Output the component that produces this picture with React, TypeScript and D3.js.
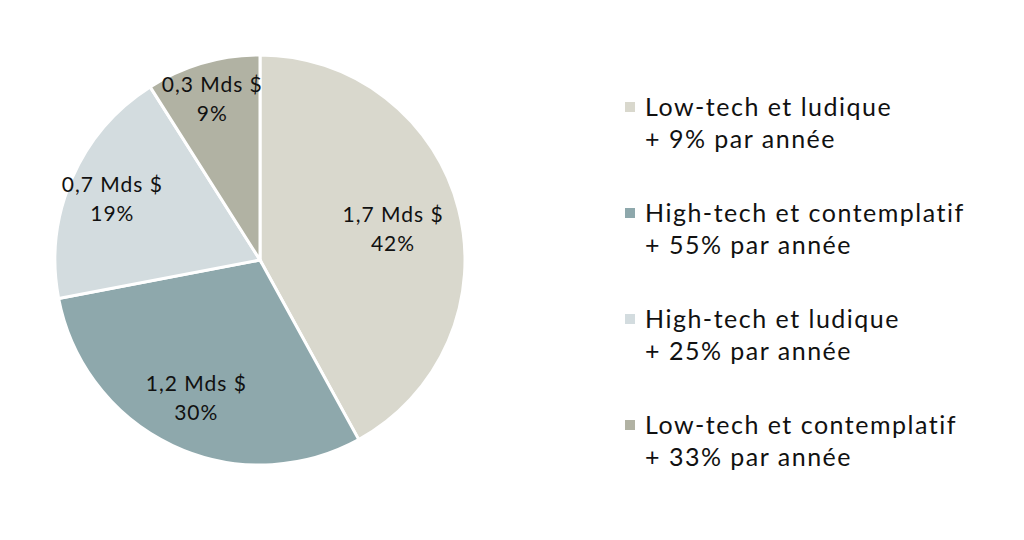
import React from "react";
import * as d3 from "d3";

const categories = [
  "Low-tech et ludique",
  "High-tech et contemplatif",
  "High-tech et ludique",
  "Low-tech et contemplatif",
];
const shares = [42, 30, 19, 9];
const amounts = ["1,7 Mds $", "1,2 Mds $", "0,7 Mds $", "0,3 Mds $"];
const growth = ["+ 9% par année", "+ 55% par année", "+ 25% par année", "+ 33% par année"];
const colors = ["#d9d8cd", "#8ea8ac", "#d3dcdf", "#b1b2a3"];

const W = 1024;
const H = 540;
const cx = 260;
const cy = 260;
const R = 205;
const FONT = "Lato, 'Noto Sans', sans-serif";

export default function App() {
  const pie = d3.pie<number>().sort(null).value((d) => d)(shares);
  const arc = d3.arc<d3.PieArcDatum<number>>().innerRadius(0).outerRadius(R);
  // smaller slices push their label further outwards
  const labelR = (p: d3.PieArcDatum<number>) => R * (0.88 - (0.5 * p.value) / 100);
  const legendY = d3.scaleBand<number>().domain(d3.range(categories.length)).range([70, 494]);

  return (
    <svg
      width={W}
      height={H}
      style={{ position: "absolute", left: 0, top: 0, background: "#fff" }}
      fontFamily={FONT}
    >
      <g transform={`translate(${cx},${cy})`}>
        {pie.map((p, i) => (
          <path key={i} d={arc(p) || ""} fill={colors[i]} stroke="#fff" strokeWidth={3} />
        ))}
        {pie.map((p, i) => {
          const rr = labelR(p);
          const [x, y] = d3
            .arc<d3.PieArcDatum<number>>()
            .innerRadius(rr)
            .outerRadius(rr)
            .centroid(p);
          return (
            <text key={i} textAnchor="middle" fontSize={21} letterSpacing={1} fill="#111">
              <tspan x={x} y={y - 4}>{amounts[i]}</tspan>
              <tspan x={x} y={y + 25}>{shares[i]}%</tspan>
            </text>
          );
        })}
      </g>
      <g>
        {categories.map((c, i) => {
          const base = (legendY(i) || 0) + legendY.bandwidth() / 2 - 7;
          return (
            <g key={i} transform={`translate(625,${base})`}>
              <rect x={0} y={-14} width={10} height={10} fill={colors[i]} />
              <text x={20} y={0} fontSize={25} letterSpacing={1.5} fill="#111">{c}</text>
              <text x={20} y={32} fontSize={25} letterSpacing={1.5} fill="#111">{growth[i]}</text>
            </g>
          );
        })}
      </g>
    </svg>
  );
}
